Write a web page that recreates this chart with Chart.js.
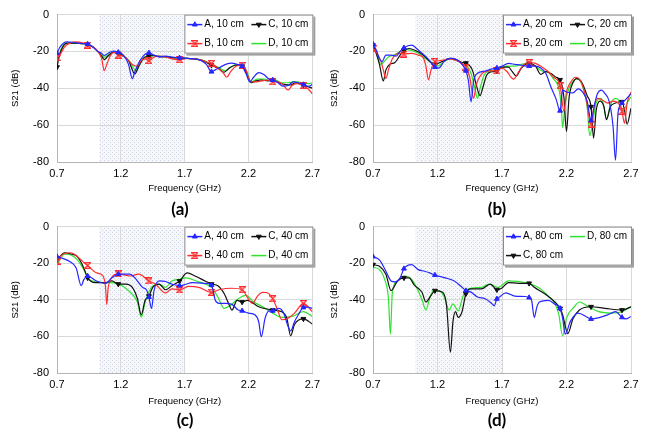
<!DOCTYPE html>
<html><head><meta charset="utf-8">
<script src="https://cdn.jsdelivr.net/npm/chart.js@4.4.0/dist/chart.umd.min.js"></script>
<style>
html,body{margin:0;padding:0;background:#fff}
body{width:650px;height:429px;overflow:hidden;position:relative}
.p{position:absolute;width:325px;height:200px}
.lab{position:absolute;font:bold 17px Lato,"Liberation Sans",sans-serif;color:#000;transform:translate(-50%,-50%);white-space:nowrap}
</style></head><body>
<div class="p" style="left:0;top:0"><canvas id="ca" width="325" height="200"></canvas></div>
<div class="p" style="left:325px;top:0"><canvas id="cb" width="325" height="200"></canvas></div>
<div class="p" style="left:0;top:212px"><canvas id="cc" width="325" height="200"></canvas></div>
<div class="p" style="left:325px;top:212px"><canvas id="cd" width="325" height="200"></canvas></div>
<div class="lab" style="left:180px;top:208px">(a)</div>
<div class="lab" style="left:497px;top:208px">(b)</div>
<div class="lab" style="left:185px;top:419px">(c)</div>
<div class="lab" style="left:497px;top:419px">(d)</div>
<script>
// ---------- axis ticks, shaded band, marker positions ----------
const X_TICKS = [0.7, 1.2, 1.7, 2.2, 2.7];
const Y_TICKS = [-80, -60, -40, -20, 0];
const SHADE_BAND = [1.03, 1.7];
const MARKER_F = [0.70, 0.94, 1.18, 1.42, 1.66, 1.91, 2.15, 2.39, 2.63];

// ---------- (a) 10 cm : [frequency GHz, S21 dB] ----------
const A10 = [[0.70,-21],[0.72,-18],[0.75,-15.5],[0.78,-14.8],[0.82,-15],[0.86,-15.5],[0.90,-15.8],[0.94,-16],[0.98,-17.5],[1.02,-20],[1.05,-21],[1.07,-22.2],[1.10,-21],[1.14,-19.8],[1.18,-20.5],[1.22,-22],[1.26,-27],[1.29,-34.8],[1.31,-31],[1.35,-25],[1.39,-21.5],[1.42,-20.8],[1.46,-22],[1.50,-22.8],[1.55,-22.5],[1.60,-23],[1.66,-23.5],[1.72,-23.8],[1.78,-24],[1.83,-25],[1.87,-27],[1.91,-31],[1.94,-30],[1.98,-28.5],[2.02,-27],[2.07,-26.3],[2.11,-27],[2.15,-28],[2.18,-32],[2.21,-36.5],[2.24,-34],[2.28,-31.5],[2.32,-32.5],[2.36,-35],[2.39,-35.5],[2.43,-37],[2.47,-38.8],[2.51,-38.5],[2.55,-36.5],[2.59,-37],[2.63,-38],[2.67,-39],[2.70,-38]];
const B10 = [[0.70,-23.5],[0.73,-21],[0.76,-17.5],[0.80,-15.5],[0.85,-14.8],[0.90,-15.3],[0.94,-16.5],[0.98,-17.5],[1.02,-20],[1.05,-24],[1.07,-30.4],[1.09,-27],[1.12,-22],[1.15,-20.5],[1.18,-22],[1.22,-22.5],[1.26,-25],[1.30,-27.5],[1.33,-28],[1.36,-25],[1.39,-24],[1.42,-25],[1.46,-23],[1.50,-22.5],[1.55,-23],[1.60,-24],[1.66,-24.5],[1.72,-23.8],[1.78,-24],[1.84,-24.8],[1.88,-26],[1.91,-26.5],[1.95,-28.5],[2.00,-31.5],[2.03,-34],[2.06,-31],[2.10,-28],[2.15,-27.5],[2.18,-30],[2.21,-36],[2.25,-36.5],[2.30,-36],[2.35,-35.5],[2.39,-36.5],[2.43,-36.5],[2.47,-38],[2.51,-41],[2.54,-38.5],[2.58,-37.5],[2.63,-38.5],[2.67,-40.5],[2.70,-43]];
const C10 = [[0.70,-28.5],[0.72,-22],[0.75,-17],[0.78,-15.5],[0.84,-15.5],[0.90,-15.8],[0.94,-16],[0.98,-17.5],[1.02,-20],[1.05,-22.5],[1.07,-24.4],[1.10,-22.5],[1.14,-20.5],[1.18,-21],[1.22,-22.5],[1.26,-25],[1.31,-32.2],[1.34,-28],[1.38,-23.5],[1.42,-22.5],[1.46,-22.2],[1.50,-23],[1.55,-22.8],[1.60,-23.5],[1.66,-23.5],[1.72,-23.8],[1.78,-24],[1.84,-25],[1.91,-27.5],[1.96,-29],[2.01,-31.3],[2.05,-29],[2.10,-27.5],[2.15,-28],[2.18,-31],[2.22,-37],[2.26,-36],[2.30,-35.5],[2.35,-36],[2.39,-35.5],[2.44,-37],[2.49,-38],[2.53,-38.2],[2.57,-37],[2.63,-38.3],[2.66,-39],[2.70,-40]];
const D10 = [[0.70,-26],[0.72,-21],[0.75,-16.5],[0.79,-15.5],[0.85,-15.5],[0.90,-15.8],[0.94,-16.2],[0.98,-17.5],[1.02,-20],[1.05,-22],[1.07,-23.2],[1.10,-22],[1.14,-20.3],[1.18,-21],[1.22,-22.5],[1.27,-25.5],[1.32,-30.5],[1.35,-27],[1.39,-23],[1.42,-22.5],[1.46,-22.3],[1.50,-22.5],[1.55,-23],[1.60,-23.3],[1.66,-23.5],[1.72,-23.8],[1.78,-24],[1.85,-25],[1.91,-27],[1.96,-28.5],[2.02,-30.5],[2.06,-28.5],[2.11,-27.2],[2.15,-27.5],[2.19,-31.5],[2.22,-36.5],[2.27,-35],[2.32,-35],[2.37,-36],[2.41,-35.5],[2.46,-37],[2.51,-37],[2.55,-36.5],[2.59,-36.5],[2.63,-37.5],[2.67,-37.5],[2.70,-37]];

// ---------- (b) 20 cm ----------
const A20 = [[0.70,-16],[0.73,-20],[0.75,-24],[0.77,-25.5],[0.80,-22],[0.84,-22],[0.88,-22.5],[0.91,-20],[0.94,-18],[1.00,-16.6],[1.04,-18.5],[1.08,-21],[1.12,-23.5],[1.15,-26],[1.18,-28.5],[1.21,-29],[1.25,-25.5],[1.30,-23.8],[1.35,-24.5],[1.39,-27],[1.42,-30.5],[1.44,-36],[1.46,-47.3],[1.48,-36],[1.50,-32.4],[1.57,-30.6],[1.62,-29.5],[1.66,-29],[1.70,-28],[1.75,-26.5],[1.80,-27],[1.85,-27.5],[1.91,-28],[1.96,-28],[2.00,-29],[2.04,-32],[2.08,-39.4],[2.12,-46],[2.15,-52.2],[2.17,-41],[2.20,-42],[2.25,-42.5],[2.29,-40.3],[2.33,-42.5],[2.36,-47],[2.39,-57.5],[2.42,-48],[2.44,-43],[2.47,-41],[2.50,-43],[2.53,-47],[2.56,-60],[2.58,-79],[2.60,-53],[2.63,-48],[2.66,-46],[2.70,-43]];
const B20 = [[0.70,-18.4],[0.73,-21],[0.76,-25],[0.78,-30],[0.80,-34.7],[0.82,-30],[0.85,-24],[0.90,-21],[0.94,-21.4],[1.00,-21],[1.05,-22],[1.09,-23.5],[1.11,-28],[1.13,-35.4],[1.15,-30],[1.18,-25.5],[1.22,-25],[1.30,-24],[1.35,-25],[1.39,-26.5],[1.42,-28.5],[1.45,-34],[1.48,-45.5],[1.50,-38],[1.54,-32.4],[1.60,-30.5],[1.66,-30.6],[1.70,-29],[1.74,-31],[1.77,-34],[1.79,-35],[1.83,-31],[1.87,-27],[1.91,-26],[1.96,-26.5],[2.00,-28],[2.05,-30.5],[2.10,-34],[2.15,-38.5],[2.18,-52.5],[2.20,-42],[2.23,-37],[2.27,-34],[2.31,-36],[2.35,-45],[2.39,-59.5],[2.41,-51],[2.44,-45.5],[2.48,-46.5],[2.52,-48],[2.56,-47],[2.60,-48],[2.63,-52.5],[2.65,-59],[2.67,-48],[2.70,-42]];
const C20 = [[0.70,-16.6],[0.72,-20],[0.75,-27],[0.78,-36],[0.80,-30],[0.83,-27],[0.87,-26],[0.91,-22],[0.94,-19.5],[0.98,-18.4],[1.03,-19.5],[1.08,-21.5],[1.12,-24],[1.15,-26],[1.18,-27],[1.22,-26],[1.30,-23.8],[1.35,-24.5],[1.39,-26],[1.42,-26.3],[1.47,-30],[1.50,-38],[1.53,-44],[1.55,-40],[1.58,-33],[1.62,-31],[1.66,-30.6],[1.70,-28.5],[1.75,-28.5],[1.78,-31],[1.81,-33.3],[1.85,-29],[1.91,-26.5],[1.96,-28],[2.00,-32.4],[2.04,-31],[2.08,-32],[2.12,-34],[2.15,-35.4],[2.18,-45],[2.20,-63.4],[2.22,-45],[2.25,-37],[2.28,-34.7],[2.32,-37],[2.36,-44],[2.39,-50],[2.41,-67],[2.43,-52],[2.46,-47],[2.49,-50],[2.51,-57],[2.54,-50],[2.58,-48],[2.63,-47.3],[2.65,-52],[2.67,-59.5],[2.70,-50.8]];
const D20 = [[0.70,-17.5],[0.73,-21],[0.76,-27],[0.78,-26],[0.82,-23],[0.86,-22],[0.90,-20.5],[0.95,-19],[1.00,-19.5],[1.05,-21],[1.10,-23.5],[1.15,-26],[1.20,-28],[1.25,-25.5],[1.30,-24],[1.35,-25],[1.40,-27],[1.43,-28],[1.46,-32],[1.49,-40],[1.51,-45.5],[1.53,-40],[1.56,-33],[1.60,-30.5],[1.66,-30],[1.70,-28.5],[1.75,-28],[1.80,-28],[1.85,-27],[1.91,-26.5],[1.96,-28],[2.01,-30.6],[2.05,-31],[2.10,-35],[2.14,-40],[2.16,-50],[2.17,-61.3],[2.19,-48],[2.22,-40],[2.26,-35.5],[2.28,-34.7],[2.32,-38],[2.36,-50],[2.38,-65.7],[2.40,-60],[2.43,-48],[2.47,-45.5],[2.49,-50],[2.51,-57],[2.54,-49],[2.58,-45.5],[2.61,-47],[2.64,-52.5],[2.67,-48],[2.70,-44.7]];

// ---------- (c) 40 cm ----------
const A40 = [[0.70,-16.4],[0.75,-17.5],[0.80,-19.1],[0.85,-22.6],[0.89,-32.3],[0.91,-29],[0.94,-27],[1.01,-29.7],[1.08,-31],[1.13,-28],[1.18,-26],[1.27,-26],[1.32,-28.8],[1.37,-33.2],[1.40,-34.5],[1.42,-38.5],[1.44,-44.7],[1.46,-35],[1.50,-29.7],[1.55,-30],[1.60,-31.4],[1.66,-32.3],[1.71,-31.5],[1.76,-30.6],[1.86,-31],[1.91,-32],[1.94,-40.3],[1.97,-42],[2.02,-42],[2.07,-42.5],[2.12,-45.6],[2.15,-46],[2.20,-47.3],[2.25,-48.2],[2.28,-52],[2.30,-60.2],[2.33,-50],[2.36,-46],[2.39,-46],[2.44,-44.7],[2.48,-48],[2.50,-52.6],[2.53,-57],[2.56,-52],[2.59,-48.2],[2.63,-44.2],[2.66,-44],[2.70,-44.7]];
const B40 = [[0.70,-19],[0.73,-16],[0.76,-14.7],[0.81,-14.3],[0.86,-16.4],[0.90,-19],[0.94,-21.2],[1.01,-25.3],[1.06,-27],[1.08,-33],[1.09,-42.6],[1.10,-34],[1.12,-28.8],[1.18,-25.8],[1.27,-27],[1.34,-26],[1.42,-29.7],[1.47,-31.4],[1.55,-36.2],[1.60,-34],[1.66,-34.6],[1.73,-32.7],[1.81,-33.2],[1.91,-35.9],[1.97,-34.5],[2.07,-33.7],[2.15,-34.5],[2.19,-38.5],[2.23,-42],[2.27,-38],[2.31,-35.9],[2.34,-36],[2.39,-39.4],[2.43,-46],[2.46,-50.9],[2.51,-50],[2.56,-47.3],[2.63,-42],[2.70,-46.5]];
const C40 = [[0.70,-18.2],[0.76,-14.3],[0.81,-15],[0.86,-16.4],[0.91,-22.6],[0.94,-28],[1.00,-30.6],[1.08,-30.6],[1.13,-29.7],[1.18,-31.4],[1.24,-31.4],[1.29,-33.2],[1.33,-39.4],[1.36,-48.2],[1.39,-40.3],[1.42,-38],[1.45,-33.2],[1.50,-31.4],[1.55,-34.5],[1.60,-32.3],[1.66,-29.7],[1.72,-25.3],[1.78,-27],[1.86,-29.7],[1.91,-31.4],[1.96,-32.3],[2.01,-36.7],[2.05,-43],[2.07,-45.6],[2.11,-40.3],[2.15,-41.2],[2.19,-40.3],[2.28,-43.8],[2.39,-45.6],[2.46,-46.5],[2.50,-50],[2.53,-59.7],[2.56,-53.5],[2.63,-50.4],[2.70,-53.2]];
const D40 = [[0.70,-20.8],[0.76,-15],[0.81,-15.5],[0.86,-18.2],[0.91,-23.5],[0.94,-28],[1.01,-30.2],[1.08,-30.6],[1.13,-30.6],[1.21,-32.3],[1.26,-35],[1.33,-41.2],[1.36,-49.5],[1.39,-41.2],[1.44,-33.2],[1.50,-31.4],[1.55,-33.2],[1.60,-29.7],[1.66,-28.8],[1.71,-28],[1.79,-29.7],[1.86,-31.4],[1.91,-33.2],[1.96,-38.5],[2.01,-44.7],[2.06,-43],[2.12,-39.4],[2.18,-37.6],[2.24,-41.2],[2.31,-43.8],[2.39,-47.3],[2.46,-49.6],[2.54,-49.1],[2.63,-46.5],[2.70,-49.1]];

// ---------- (d) 80 cm ----------
const A80 = [[0.70,-16.4],[0.75,-18.2],[0.80,-24.4],[0.84,-29.7],[0.87,-30.2],[0.91,-28],[0.94,-23],[1.00,-20.8],[1.05,-23.5],[1.10,-24.4],[1.14,-25.3],[1.18,-26.5],[1.26,-28],[1.33,-29.7],[1.38,-32.5],[1.42,-35],[1.46,-35.8],[1.51,-38.5],[1.57,-39.4],[1.62,-42],[1.64,-43.3],[1.66,-39.5],[1.68,-38.5],[1.73,-36.2],[1.80,-38],[1.88,-38.2],[1.91,-38.8],[1.93,-40.5],[1.95,-49.6],[1.97,-44],[1.99,-41.2],[2.06,-40.3],[2.11,-42.4],[2.15,-44.7],[2.17,-50],[2.19,-58.8],[2.23,-51.8],[2.29,-47.3],[2.36,-49.5],[2.39,-50.5],[2.46,-49.6],[2.52,-48.2],[2.58,-46.5],[2.63,-49.6],[2.66,-50.4],[2.70,-49.1]];
const C80 = [[0.70,-20.8],[0.75,-21.7],[0.80,-26],[0.84,-35],[0.89,-29.7],[0.94,-28],[0.98,-28],[1.02,-32],[1.08,-35.9],[1.11,-41.2],[1.15,-37.6],[1.18,-35],[1.24,-35.9],[1.27,-43],[1.30,-68.6],[1.32,-51.8],[1.34,-46.5],[1.36,-49.6],[1.39,-46.5],[1.42,-36.7],[1.46,-34],[1.54,-34],[1.61,-31.4],[1.66,-34.5],[1.70,-33.5],[1.75,-30.6],[1.83,-31],[1.91,-31],[1.95,-33.2],[2.03,-36.7],[2.11,-41.2],[2.15,-44.7],[2.17,-48.2],[2.21,-58.5],[2.25,-50.4],[2.30,-45.6],[2.39,-43.8],[2.50,-44.7],[2.63,-45.6],[2.70,-43.8]];
const D80 = [[0.70,-22.3],[0.75,-23.5],[0.79,-28.8],[0.82,-39.4],[0.835,-58.8],[0.85,-35.9],[0.89,-29.7],[0.94,-27],[1.00,-28.8],[1.05,-35],[1.08,-40],[1.11,-45.6],[1.14,-39],[1.17,-35],[1.21,-35],[1.25,-38],[1.29,-45.6],[1.32,-42.2],[1.36,-46],[1.40,-37.6],[1.44,-34],[1.54,-33.2],[1.60,-31.4],[1.67,-33.2],[1.75,-29.7],[1.88,-30.6],[1.98,-33.2],[2.06,-38],[2.11,-42],[2.14,-48],[2.17,-59.7],[2.20,-50],[2.26,-43.8],[2.30,-41.2],[2.37,-43.8],[2.45,-46.5],[2.55,-47.3],[2.63,-46.5],[2.70,-43.8]];

// ---------- styles ----------
const FONT = '"Liberation Sans", Arial, sans-serif';
Chart.defaults.font.family = FONT;

function hourglass(color){
  const c = document.createElement('canvas'); c.width = 7; c.height = 7;
  const g = c.getContext('2d'); g.strokeStyle = color; g.lineWidth = 1.1;
  g.beginPath(); g.moveTo(0.5,0.6); g.lineTo(6.5,0.6); g.lineTo(0.5,6.4); g.lineTo(6.5,6.4); g.closePath(); g.stroke();
  return c;
}
const STYLE = {
  A:{color:'#2626ff', style:'triangle', rot:0, marker:true},
  B:{color:'#ff2e2e', style:hourglass('#ff2e2e'), rot:0, marker:true},
  C:{color:'#111111', style:'triangle', rot:180, marker:true},
  D:{color:'#2ee22e', style:'circle', rot:0, marker:false}
};
const markerRadius = ctx => (ctx.parsed && MARKER_F.some(m => Math.abs(m - ctx.parsed.x) < 0.004)) ? 2.8 : 0;

function ds(key, label, data){
  const s = STYLE[key];
  return {label, data, borderColor:s.color, backgroundColor:s.color,
    pointStyle:s.style, pointRotation:s.rot, pointBackgroundColor:s.color, pointBorderColor:s.color,
    pointBorderWidth:1, marker:s.marker, pointRadius: s.marker ? markerRadius : 0,
    borderWidth:1.2, cubicInterpolationMode:'monotone', fill:false};
}

let patternCache = null;
function dotPattern(ctx){
  if (patternCache) return patternCache;
  const c = document.createElement('canvas'); c.width = 4; c.height = 4;
  const g = c.getContext('2d');
  g.fillStyle = '#f6f7fa'; g.fillRect(0,0,4,4);
  g.fillStyle = '#cdd3e3'; g.fillRect(0,0,1,1); g.fillRect(2,2,1,1);
  patternCache = ctx.createPattern(c, 'repeat');
  return patternCache;
}
const shadePlugin = {
  id:'shade',
  beforeDraw(chart){
    const {ctx, chartArea:a, scales:{x}} = chart;
    const x1 = x.getPixelForValue(SHADE_BAND[0]), x2 = x.getPixelForValue(SHADE_BAND[1]);
    ctx.save(); ctx.fillStyle = dotPattern(ctx);
    ctx.fillRect(x1, a.top, x2 - x1, a.bottom - a.top); ctx.restore();
  }
};
const boxLegend = {
  id:'boxLegend',
  afterDraw(chart, args, opts){
    const {ctx, chartArea:a} = chart;
    const w = 129, h = 39, x0 = a.right - w + 1, y0 = a.top;
    ctx.save();
    ctx.fillStyle = '#a0a0a0'; ctx.fillRect(x0 + 2, y0 + 2, w, h);
    ctx.fillStyle = '#ffffff'; ctx.fillRect(x0, y0, w, h);
    ctx.strokeStyle = '#8a8a8a'; ctx.lineWidth = 1; ctx.strokeRect(x0 + 0.5, y0 + 0.5, w - 1, h - 1);
    opts.order.forEach((row, ri) => row.forEach((di, ci) => {
      const d = chart.data.datasets[di];
      const cy = y0 + 10 + ri * 19, sx = x0 + 3 + ci * 64;
      ctx.strokeStyle = d.borderColor; ctx.lineWidth = 1.5;
      ctx.beginPath(); ctx.moveTo(sx, cy); ctx.lineTo(sx + 15, cy); ctx.stroke();
      if (d.marker){
        ctx.fillStyle = d.pointBackgroundColor; ctx.strokeStyle = d.pointBorderColor; ctx.lineWidth = 1;
        Chart.helpers.drawPoint(ctx, {pointStyle:d.pointStyle, rotation:d.pointRotation, radius:2.8, borderWidth:1}, sx + 7.5, cy);
      }
      ctx.fillStyle = '#000'; ctx.font = '10px ' + FONT; ctx.textBaseline = 'middle'; ctx.textAlign = 'left';
      ctx.fillText(d.label, sx + 17, cy);
    }));
    ctx.restore();
  }
};

function makeChart(id, datasets, order, area){
  return new Chart(document.getElementById(id), {
    type:'line',
    data:{datasets},
    options:{
      responsive:false, animation:false, devicePixelRatio:1, normalized:true,
      layout:{autoPadding:false, padding:{left:0, top:area.top, right:325 - area.right, bottom:0}},
      plugins:{legend:{display:false}, tooltip:{enabled:false}, boxLegend:{order}},
      scales:{
        x:{type:'linear', min:0.7, max:2.7,
          afterBuildTicks:s => { s.ticks = X_TICKS.map(v => ({value:v})); },
          afterFit:s => { s.height = 200 - area.bottom; },
          grid:{color:'#d9d9d9', drawTicks:false}, border:{color:'#b5b5b5'},
          ticks:{padding:5, color:'#000', font:{size:11}, maxRotation:0, autoSkip:false, callback:v => Number(v).toFixed(1)},
          title:{display:true, text:'Frequency (GHz)', color:'#000', font:{size:9.5}, padding:{top:0, bottom:area.xt}}},
        y:{type:'linear', min:-80, max:0,
          afterBuildTicks:s => { s.ticks = Y_TICKS.map(v => ({value:v})); },
          afterFit:s => { s.width = area.left; },
          grid:{color:'#d9d9d9', drawTicks:false}, border:{color:'#b5b5b5'},
          ticks:{padding:8, color:'#000', font:{size:11}, callback:v => String(v)},
          title:{display:true, text:'S21 (dB)', color:'#000', font:{size:9.5}, padding:{top:area.yt, bottom:0}}}
      }
    },
    plugins:[shadePlugin, boxLegend]
  });
}

makeChart('ca', [ds('A','A, 10 cm',A10), ds('B','B, 10 cm',B10), ds('C','C, 10 cm',C10), ds('D','D, 10 cm',D10)],
  [[0,2],[1,3]], {left:57, right:314, top:8, bottom:162, xt:6, yt:10});
makeChart('cb', [ds('A','A, 20 cm',A20), ds('B','B, 20 cm',B20), ds('C','C, 20 cm',C20), ds('D','D, 20 cm',D20)],
  [[0,2],[1,3]], {left:48, right:306, top:10, bottom:162, xt:6, yt:4});
makeChart('cc', [ds('A','A, 40 cm',A40), ds('B','B, 40 cm',B40), ds('C','C, 40 cm',C40), ds('D','D, 40 cm',D40)],
  [[0,2],[1,3]], {left:57, right:314, top:10, bottom:161, xt:5, yt:10});
makeChart('cd', [ds('A','A, 80 cm',A80), ds('C','C, 80 cm',C80), ds('D','D, 80 cm',D80)],
  [[0,2],[1]], {left:48, right:306, top:10, bottom:161, xt:5, yt:4});
</script>
</body></html>
